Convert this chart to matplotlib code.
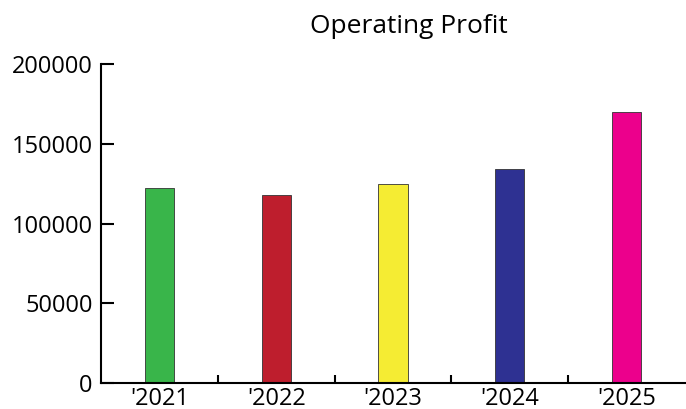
import matplotlib
matplotlib.use("Agg")
import matplotlib.pyplot as plt
import numpy as np

years = ["'2021", "'2022", "'2023", "'2024", "'2025"]
profit = [122000, 118000, 125000, 134000, 170000]
bar_colors = ["#39B54A", "#BE1E2D", "#F5EC33", "#2E3192", "#EC008C"]
y_ticks = [0, 50000, 100000, 150000, 200000]

plt.rcParams["font.family"] = ["Open Sans", "DejaVu Sans"]

fig = plt.figure(figsize=(6.86, 4.09), dpi=100)
ax = fig.add_axes([101 / 686, 1 - 383 / 409, 584 / 686, 319 / 409])

x = np.arange(len(years))
ax.bar(x, profit, width=0.25, color=bar_colors, edgecolor="#333333", linewidth=0.6)

ax.set_xlim(-0.5, len(years) - 0.5)
ax.set_ylim(0, 200000)
ax.set_yticks(y_ticks)
ax.set_yticklabels([str(v) for v in y_ticks], fontsize=17)
ax.set_xticks(x)
ax.set_xticklabels(years, fontsize=17)
# boundary ticks between categories
ax.set_xticks(np.arange(0.5, len(years) - 0.5, 1), minor=True)

ax.tick_params(axis="y", direction="in", length=9, width=1.5, pad=6)
ax.tick_params(axis="x", which="major", length=0, pad=3)
ax.tick_params(axis="x", which="minor", direction="in", length=6, width=1.5)

for side in ["top", "right"]:
    ax.spines[side].set_visible(False)
for side in ["left", "bottom"]:
    ax.spines[side].set_linewidth(1.5)

fig.text(409 / 686, 1 - 33 / 409, "Operating Profit", ha="center", va="baseline", fontsize=19)

fig.savefig("out.png", dpi=100)
